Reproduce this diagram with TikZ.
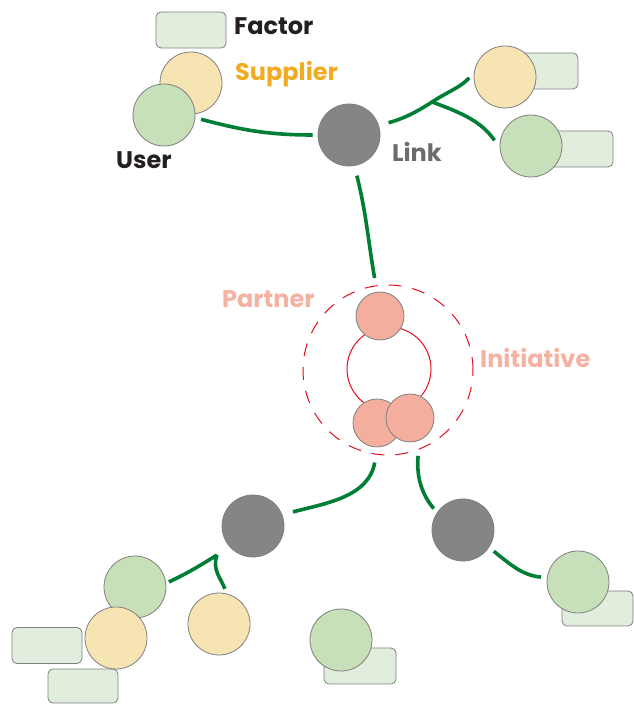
\documentclass[tikz,border=0pt]{standalone}
\usepackage{fontspec}
\setmainfont{Poppins}
\usepackage{tikz}
\usetikzlibrary{calc}
\usepackage{xcolor}

\definecolor{usergreen}{HTML}{C8E0B9}
\definecolor{supyellow}{HTML}{F7E4B3}
\definecolor{factgreen}{HTML}{E2EEDD}
\definecolor{linkgray}{HTML}{858585}
\definecolor{partsalmon}{HTML}{F4AE9D}
\definecolor{rimgray}{HTML}{7F7F7F}
\definecolor{tiegreen}{HTML}{007E36}
\definecolor{initred}{HTML}{E30F1E}
\definecolor{factink}{HTML}{231F20}
\definecolor{supink}{HTML}{F1AA22}
\definecolor{linkink}{HTML}{6B6B6B}
\definecolor{partink}{HTML}{F5B1A1}

\begin{document}
\begin{tikzpicture}[x=1pt,y=1pt,
disc/.style={circle,draw=rimgray,line width=0.8pt,minimum size=62pt,inner sep=0pt},
userc/.style={disc,fill=usergreen},
supc/.style={disc,fill=supyellow},
linkc/.style={disc,fill=linkgray},
partc/.style={disc,fill=partsalmon,minimum size=48pt},
factbox/.style={rectangle,rounded corners=5pt,draw=rimgray,line width=0.8pt,fill=factgreen,
  minimum width=70pt,minimum height=36pt,inner sep=0pt},
tie/.style={draw=tiegreen,line width=3.6pt},
lbl/.style={anchor=base west,inner sep=0pt,font=\fontsize{24}{28}\selectfont\bfseries}]
\useasboundingbox (0,0) rectangle (633,704);

% top left group
\node[factbox] (facTL) at (191,674) {};
\node[supc] (supTL) at (191,621) {};
\node[userc] (userTL) at (164,589) {};
\node[lbl,text=factink] (lblFactor) at (234,669) {Factor};
\node[lbl,text=supink] (lblSupplier) at (235,623) {Supplier};
\node[lbl,text=factink] (lblUser) at (116,535) {User};

% top link and its right side
\node[linkc] (linkT) at (349,569) {};
\node[lbl,text=linkink] (lblLink) at (392,542) {Link};
\node[factbox,minimum width=66pt] (facR1) at (545,633) {};
\node[supc] (supR) at (505,627) {};
\node[factbox,minimum width=68pt] (facR2) at (579,555) {};
\node[userc] (userR) at (531,558) {};
\coordinate (jA) at (432,602);

% partners in the initiative
\node[circle,draw=initred,line width=1pt,dash pattern=on 13pt off 11pt,minimum size=170pt] (ring) at (388,334) {};
\node[circle,draw=initred,line width=1pt,minimum size=84pt] (loop) at (389,335) {};
\node[partc] (P1) at (380,388) {};
\node[partc] (P2) at (377,281) {};
\node[partc] (P3) at (410,286) {};
\node[lbl,text=partink] (lblPartner) at (222,396) {Partner};
\node[lbl,text=partink] (lblInitiative) at (480,336) {Initiative};

% bottom links
\node[linkc] (linkL) at (253,178) {};
\node[linkc] (linkR) at (463,174) {};
\coordinate (jB) at (217,149);

\node[factbox] (facBL1) at (47,58.5) {};
\node[factbox,minimum height=34pt] (facBL2) at (83,18) {};
\node[userc] (userBL) at (135,117) {};
\node[supc] (supBL) at (116,66) {};
\node[supc] (supBM) at (219,80) {};
\node[factbox,minimum width=72pt] (facBM) at (360,38) {};
\node[userc] (userBM) at (341,64) {};
\node[factbox,minimum width=71pt,minimum height=35pt] (facBR) at (597.5,95.5) {};
\node[userc] (userBR) at (578,122) {};

% connectors
\draw[tie,shorten <=6pt,shorten >=5pt] (userTL.-5) to[out=-15,in=180] (linkT.180);
\draw[tie,shorten <=10pt,shorten >=7pt] (linkT.18) to[out=15,in=213] (jA) to[out=33,in=228] (supR.172);
\draw[tie,shorten >=9pt] (jA) to[out=-20,in=125] (userR.183);
\draw[tie,shorten <=10pt,shorten >=14pt] (linkT.-80) to[out=-76,in=100] (P1.97);
\draw[tie,shorten <=8pt,shorten >=11pt] (ring.-98) to[out=-100,in=15] (linkL.21);
\draw[tie,shorten <=6pt,shorten >=5pt] (ring.-69) to[out=-95,in=130] (linkR.146);
\draw[tie,shorten <=6pt,shorten >=6pt] (linkR.-34) to[out=-38,in=175] (userBR.172);
\draw[tie,shorten >=3pt] (jB) to[out=212,in=25] (userBL.7);
\draw[tie,shorten >=5pt] (jB) to[out=-110,in=110] (supBM.76);
\end{tikzpicture}
\end{document}
